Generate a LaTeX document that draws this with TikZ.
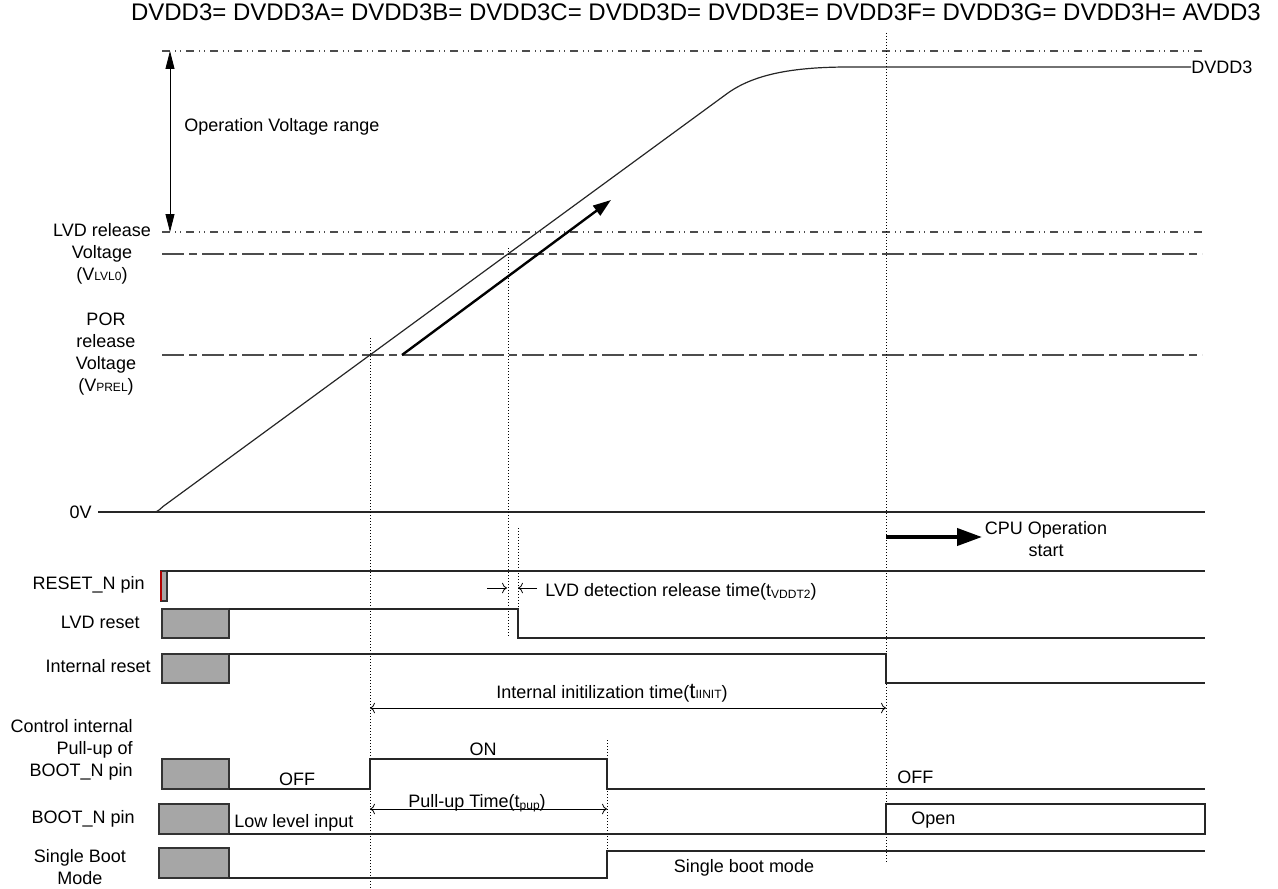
\documentclass[tikz,border=0pt]{standalone}
\usepackage{fontspec}
\setmainfont{Liberation Sans}
\usepackage{xcolor}
\usepackage{tikz}
\usetikzlibrary{arrows.meta}
\tikzset{ lbl/.style = {font=\fontsize{9}{11}\selectfont, inner sep=0pt} }
\tikzset{ gray_box/.style = {fill=black!35, draw=black!80, line width=0.6pt} }
\tikzset{ sig/.style = {draw=black!85, line width=0.6pt} }
\tikzset{ v_mark/.style = {densely dotted, line width=0.5pt} }
\tikzset{ lvl_dashdot/.style = {draw=black!70, line width=0.6pt, dash pattern=on 4pt off 2.5pt on 0.5pt off 2pt on 0.5pt off 2.5pt} }
\tikzset{ lvl_dash/.style = {draw=black!70, line width=0.6pt, dash pattern=on 11pt off 2.5pt on 4pt off 2.5pt} }
\newcommand{\smallsub}[1]{{\fontsize{6}{6}\selectfont #1}}

\begin{document}
\begin{tikzpicture}[x=0.5pt,y=-0.5pt]
        \useasboundingbox (0,0) rectangle (1278,888);
        \node [style=lbl, font=\fontsize{12}{14}\selectfont] (title) at (696,12) {DVDD3= DVDD3A= DVDD3B= DVDD3C= DVDD3D= DVDD3E= DVDD3F= DVDD3G= DVDD3H= AVDD3};

        \draw [style=lvl_dashdot] (162,51) -- (1202,51);
        \draw [style=lvl_dashdot] (162,232) -- (1202,232);
        \draw [style=lvl_dash] (162,254) -- (1202,254);
        \draw [style=lvl_dash] (162,355) -- (1202,355);

        \coordinate (rng_top) at (170,51);
        \coordinate (rng_bot) at (170,232);
        \draw [{Triangle[length=9pt,width=4.5pt]}-{Triangle[length=9pt,width=4.5pt]}] (rng_top) -- (rng_bot);
        \node [style=lbl, anchor=west] (opr) at (184,127) {Operation Voltage range};
        \node [style=lbl, align=center] (lvd_v) at (102,254) {LVD release\\Voltage\\(V\smallsub{LVL0})};
        \node [style=lbl, align=center] (por_v) at (106,354) {POR\\release\\Voltage\\(V\smallsub{PREL})};

        \draw [style=sig] (151,512) .. controls (157,512) .. (163,506.5) -- (726,94.4) .. controls (752,75) and (790,67) .. (849,67) -- (1191,67);
        \node [style=lbl, anchor=west] (dvdd) at (1191,67) {DVDD3};
        \coordinate (ramp_a) at (402,355);
        \coordinate (ramp_b) at (611,200);
        \draw [line width=1.2pt, -{Triangle[length=9pt,width=6pt]}] (ramp_a) -- (ramp_b);

        \node [style=lbl, anchor=east] (zero_v) at (92,512) {0V};
        \draw [style=sig] (98,512) -- (1205,512);

        \draw [style=v_mark] (370,338) -- (370,888);
        \draw [style=v_mark] (508,248) -- (508,637);
        \draw [style=v_mark] (518,528) -- (518,609);
        \draw [style=v_mark] (886,33) -- (886,862);
        \draw [style=v_mark] (607,740) -- (607,850);

        \coordinate (cpu_a) at (886,537);
        \coordinate (cpu_b) at (982,537);
        \draw [line width=2pt, -{Triangle[length=12.5pt,width=8.5pt]}] (cpu_a) -- (cpu_b);
        \node [style=lbl, align=center] (cpu) at (1046,539) {CPU Operation\\start};

        \node [style=lbl, anchor=east] (rst_lbl) at (145,585) {RESET\_N pin};
        \draw [style=gray_box] (161,571) rectangle (167,601);
        \draw [red!70!black, line width=0.6pt] (161,571) -- (161,601);
        \draw [style=sig] (167,571) -- (1205,571);

        \node [style=lbl, anchor=east] (lvd_lbl) at (140,622) {LVD reset};
        \draw [style=gray_box] (162,609) rectangle (229,638);
        \draw [style=sig] (229,609) -- (518,609) -- (518,638) -- (1205,638);
        \coordinate (dt_l) at (487,588);
        \coordinate (dt_a) at (507,588);
        \coordinate (dt_b) at (518,588);
        \coordinate (dt_r) at (537,588);
        \draw [->] (dt_l) -- (dt_a);
        \draw [->] (dt_r) -- (dt_b);
        \node [style=lbl, anchor=west] (tvddt) at (545,592) {LVD detection release time(t\raisebox{-1pt}{\smallsub{VDDT2}})};

        \node [style=lbl, anchor=east] (irst_lbl) at (151,666) {Internal reset};
        \draw [style=gray_box] (162,654) rectangle (229,683);
        \draw [style=sig] (229,654) -- (886,654) -- (886,683) -- (1205,683);
        \coordinate (init_a) at (370,708);
        \coordinate (init_b) at (886,708);
        \draw [<->] (init_a) -- (init_b);
        \node [style=lbl] (tinit) at (612,693) {Internal initilization time({\fontsize{11}{11}\selectfont t}\smallsub{IINIT})};

        \node [style=lbl, anchor=east, align=right] (pu_lbl) at (133,750) {Control internal\\Pull-up of\\BOOT\_N pin};
        \draw [style=gray_box] (162,759) rectangle (229,789);
        \draw [style=sig] (229,789) -- (370,789) -- (370,759) -- (607,759) -- (607,789) -- (1205,789);
        \node [style=lbl] (off_a) at (297,779) {OFF};
        \node [style=lbl] (on_a) at (483,749) {ON};
        \node [style=lbl, anchor=west] (off_b) at (897,777) {OFF};
        \coordinate (pup_a) at (370,809);
        \coordinate (pup_b) at (607,809);
        \draw [<->] (pup_a) -- (pup_b);
        \node [style=lbl, anchor=base] (tpup) at (477,807) {Pull-up Time(t\raisebox{-1pt}{\smallsub{pup}})};

        \node [style=lbl, anchor=east] (boot_lbl) at (135,819) {BOOT\_N pin};
        \draw [style=gray_box] (159,804) rectangle (229,834);
        \draw [style=sig] (229,834) -- (1205,834);
        \draw [style=sig] (886,804) rectangle (1205,834);
        \node [style=lbl, anchor=west] (low_in) at (234,823) {Low level input};
        \node [style=lbl, anchor=west] (open) at (911,820) {Open};

        \node [style=lbl, align=center] (sb_lbl) at (80,867) {Single Boot\\Mode};
        \draw [style=gray_box] (159,848) rectangle (229,878);
        \draw [style=sig] (229,878) -- (607,878) -- (607,851) -- (1205,851);
        \node [style=lbl] (sb_mode) at (744,868) {Single boot mode};
\end{tikzpicture}
\end{document}
